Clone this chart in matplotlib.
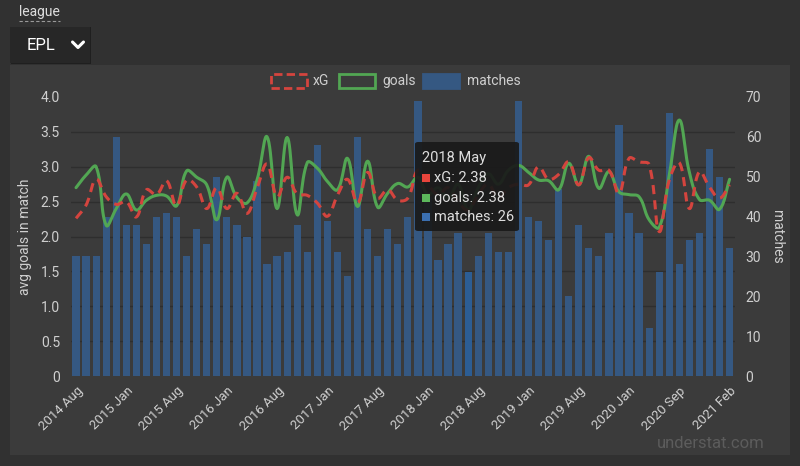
import numpy as np
import matplotlib
matplotlib.use('Agg')
import matplotlib.pyplot as plt
from matplotlib.patches import Rectangle, FancyBboxPatch
from matplotlib.lines import Line2D
from matplotlib.ticker import MultipleLocator, FuncFormatter

plt.rcParams['font.family'] = ['Roboto', 'DejaVu Sans']

# months with EPL matches, Aug 2014 - Feb 2021
months = ['2014 Aug', '2014 Sep', '2014 Oct', '2014 Nov', '2014 Dec',
          '2015 Jan', '2015 Feb', '2015 Mar', '2015 Apr', '2015 May',
          '2015 Aug', '2015 Sep', '2015 Oct', '2015 Nov', '2015 Dec',
          '2016 Jan', '2016 Feb', '2016 Mar', '2016 Apr', '2016 May',
          '2016 Aug', '2016 Sep', '2016 Oct', '2016 Nov', '2016 Dec',
          '2017 Jan', '2017 Feb', '2017 Mar', '2017 Apr', '2017 May',
          '2017 Aug', '2017 Sep', '2017 Oct', '2017 Nov', '2017 Dec',
          '2018 Jan', '2018 Feb', '2018 Mar', '2018 Apr', '2018 May',
          '2018 Aug', '2018 Sep', '2018 Oct', '2018 Nov', '2018 Dec',
          '2019 Jan', '2019 Feb', '2019 Mar', '2019 Apr', '2019 May',
          '2019 Aug', '2019 Sep', '2019 Oct', '2019 Nov', '2019 Dec',
          '2020 Jan', '2020 Feb', '2020 Mar', '2020 Jun', '2020 Jul',
          '2020 Sep', '2020 Oct', '2020 Nov', '2020 Dec', '2021 Jan',
          '2021 Feb']

matches = [30, 30, 30, 40, 60, 38, 38, 33, 40, 41,
           40, 30, 37, 33, 50, 40, 38, 35, 49, 28,
           30, 31, 38, 31, 58, 39, 31, 25, 60, 37,
           30, 37, 33, 40, 69, 45, 29, 33, 36, 26,
           30, 36, 31, 31, 69, 40, 39, 34, 47, 20,
           38, 32, 30, 36, 63, 41, 36, 12, 26, 66,
           28, 34, 36, 57, 50, 32]

goals = [2.70, 2.88, 3.00, 2.16, 2.40, 2.61, 2.38, 2.52, 2.59, 2.58,
         2.44, 2.94, 2.85, 2.74, 2.24, 2.85, 2.56, 2.48, 2.81, 3.43,
         2.40, 3.42, 2.31, 3.06, 2.98, 2.79, 2.67, 3.12, 2.43, 3.08,
         2.42, 2.62, 2.76, 2.71, 2.85, 2.60, 2.70, 2.55, 2.75, 2.38,
         2.70, 2.90, 2.75, 2.95, 3.02, 2.92, 2.81, 2.80, 2.67, 3.05,
         2.74, 3.15, 2.69, 2.93, 2.64, 2.60, 2.57, 2.24, 2.13, 2.88,
         3.67, 2.92, 2.53, 2.52, 2.39, 2.82]

xg = [2.26, 2.45, 2.82, 2.57, 2.46, 2.50, 2.28, 2.67, 2.60, 2.80,
      2.44, 2.81, 2.71, 2.40, 2.70, 2.40, 2.62, 2.33, 2.69, 3.04,
      2.57, 2.85, 2.61, 2.59, 2.48, 2.29, 2.59, 2.82, 2.48, 2.92,
      2.55, 2.67, 2.52, 2.55, 2.95, 2.75, 2.60, 2.70, 2.50, 2.38,
      2.60, 2.75, 2.55, 2.70, 2.75, 2.74, 3.00, 2.82, 2.89, 3.07,
      2.74, 3.13, 2.95, 2.95, 2.62, 3.12, 3.07, 3.03, 2.07, 2.81,
      3.06, 2.40, 2.93, 2.71, 2.55, 2.74]

hover = 39  # month shown in the tooltip

BG = '#313131'
PANEL = '#3b3b3b'
GRID = '#2e2e2e'
TXT = '#cfcfcf'
BAR = '#355882'
BAR_HI = '#2c5d94'
GREEN = '#52a653'
RED = '#d4443e'


def fx(x):
    return x / 800.0


def fy(y):
    return 1 - y / 466.0


# chart.js style bezier smoothing (tension 0.4), done in pixel-ish space
def smooth(ys, t=0.4, n=16, sx=10.0, sy=69.75):
    ys = np.asarray(ys, dtype=float)
    pts = np.column_stack([np.arange(len(ys)) * sx, ys * sy])
    cin, cout = [], []
    for i in range(len(pts)):
        prev = pts[max(i - 1, 0)]
        cur = pts[i]
        nxt = pts[min(i + 1, len(pts) - 1)]
        d01 = np.hypot(*(cur - prev))
        d12 = np.hypot(*(nxt - cur))
        tot = d01 + d12
        s01 = d01 / tot if tot else 0
        s12 = d12 / tot if tot else 0
        cin.append(cur - t * s01 * (nxt - prev))
        cout.append(cur + t * s12 * (nxt - prev))
    tt = np.linspace(0, 1, n)[:, None]
    segs = []
    for i in range(len(pts) - 1):
        p0, p1, p2, p3 = pts[i], cout[i], cin[i + 1], pts[i + 1]
        b = ((1 - tt) ** 3) * p0 + 3 * ((1 - tt) ** 2) * tt * p1 \
            + 3 * (1 - tt) * tt ** 2 * p2 + tt ** 3 * p3
        segs.append(b if i == 0 else b[1:])
    out = np.vstack(segs)
    return out[:, 0] / sx, out[:, 1] / sy


fig = plt.figure(figsize=(8, 4.66), dpi=100, facecolor=BG)

# panel + league selector
fig.add_artist(Rectangle((fx(10), fy(455)), fx(790) - fx(10), fy(65) - fy(455),
                         transform=fig.transFigure, facecolor=PANEL, edgecolor='none', zorder=-10))
fig.add_artist(Rectangle((fx(11), fy(64)), fx(91) - fx(11), fy(27) - fy(64),
                         transform=fig.transFigure, facecolor='#1f1f1f', edgecolor='none', zorder=-9))
fig.add_artist(Rectangle((fx(10), fy(63)), fx(90) - fx(10), fy(27) - fy(63),
                         transform=fig.transFigure, facecolor='#272727', edgecolor='none', zorder=-8))
fig.text(fx(19), fy(12), 'league', color='#dddddd', fontsize=10, va='center', ha='left')
fig.add_artist(Line2D([fx(19), fx(60)], [fy(21), fy(21)], transform=fig.transFigure,
                      color='#9a9a9a', lw=0.8, linestyle=(0, (3, 2))))
fig.text(fx(27), fy(45), 'EPL', color='white', fontsize=12, va='center', ha='left')
fig.add_artist(Line2D([fx(72.5), fx(78), fx(83.5)], [fy(42), fy(47.5), fy(42)],
                      transform=fig.transFigure, color='white', lw=2.2, solid_capstyle='round'))

ax = fig.add_axes([fx(71), fy(376), fx(734.6) - fx(71), fy(97) - fy(376)])
ax2 = ax.twinx()
ax.set_zorder(2)
ax2.set_zorder(1)
ax.patch.set_visible(False)
ax2.patch.set_visible(False)

x = np.arange(len(months))

# bars (matches) on right axis
colors = [BAR_HI if i == hover else BAR for i in x]
ax2.bar(x, matches, width=0.72, color=colors, zorder=2)
ax2.set_ylim(0, 70)
ax2.yaxis.set_major_locator(MultipleLocator(10))
ax2.yaxis.set_minor_locator(MultipleLocator(70 / 8))
ax2.grid(which='minor', axis='y', color=GRID, lw=1)
ax2.set_xticks(np.arange(-0.5, len(months), 5), minor=True)
ax2.grid(which='minor', axis='x', color=GRID, lw=1)
ax2.set_axisbelow(True)

# lines on left axis
gx, gy = smooth(goals)
ax.plot(gx, gy, color=GREEN, lw=2.2, solid_capstyle='round')
rx, ry = smooth(xg)
ax.plot(rx, ry, color=RED, lw=2.2, dashes=(3, 2))
ax.set_ylim(0, 4)
ax.yaxis.set_major_locator(MultipleLocator(0.5))
ax.yaxis.set_major_formatter(FuncFormatter(lambda v, p: '0' if v == 0 else '%.1f' % v))
ax.set_xlim(-0.5, len(months) - 0.5)
ax.set_xticks(x[::5])
ax.set_xticklabels(months[::5], rotation=45, ha='right', rotation_mode='anchor')

for a in (ax, ax2):
    for s in a.spines.values():
        s.set_visible(False)
    a.tick_params(which='both', length=0, colors=TXT, labelsize=10)
ax.tick_params(axis='y', pad=8)
ax2.tick_params(axis='y', pad=8)
ax.tick_params(axis='x', pad=6, labelsize=9.5)

ax.set_ylabel('avg goals in match', color=TXT, fontsize=10, labelpad=6)
ax2.set_ylabel('matches', color=TXT, fontsize=10, rotation=270, labelpad=16)

# legend
legend_items = [('xG', 271, 313), ('goals', 339, 382), ('matches', 423, 467)]
for label, bx, tx in legend_items:
    if label == 'xG':
        p = Rectangle((fx(bx), fy(88)), fx(36), fy(0) - fy(14), transform=fig.transFigure,
                      facecolor='none', edgecolor=RED, lw=2, linestyle=(0, (3, 1.5)))
    elif label == 'goals':
        p = Rectangle((fx(bx), fy(88)), fx(36), fy(0) - fy(14), transform=fig.transFigure,
                      facecolor='none', edgecolor=GREEN, lw=2)
    else:
        p = Rectangle((fx(bx), fy(88)), fx(36), fy(0) - fy(14), transform=fig.transFigure,
                      facecolor=BAR, edgecolor=BAR, lw=2)
    fig.add_artist(p)
    fig.text(fx(tx), fy(81), label, color=TXT, fontsize=10, va='center', ha='left')

# tooltip for the hovered month
fig.add_artist(FancyBboxPatch((fx(415), fy(231)), fx(104), fy(142) - fy(231),
                              boxstyle='round,pad=0,rounding_size=0.004',
                              transform=fig.transFigure, facecolor='#1a1a1a',
                              edgecolor='none', alpha=0.93, zorder=5))
fig.text(fx(422), fy(158), months[hover], color='#dddddd', fontsize=10.5,
         va='center', ha='left', zorder=6)
rows = [('xG: %.2f' % xg[hover], '#e8453c', 178),
        ('goals: %.2f' % goals[hover], '#5cb85c', 197.5),
        ('matches: %d' % matches[hover], '#3b6fb0', 217)]
for txt, c, ry_ in rows:
    fig.add_artist(Rectangle((fx(422), fy(ry_ + 4)), fx(8), fy(0) - fy(8),
                             transform=fig.transFigure, facecolor=c,
                             edgecolor='none', zorder=6))
    fig.text(fx(434), fy(ry_), txt, color='#dddddd', fontsize=10.5,
             va='center', ha='left', zorder=6)

fig.text(fx(765), fy(443), 'understat.com', color='#5c5c5c', fontsize=12,
         va='center', ha='right')

fig.savefig('out.png', dpi=100, facecolor=BG)
